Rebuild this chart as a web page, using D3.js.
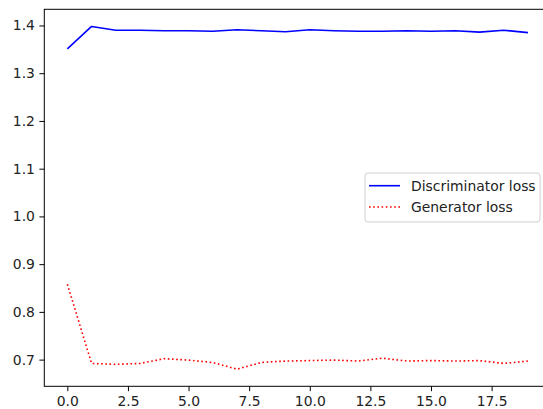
<!DOCTYPE html>
<html>
<head>
<meta charset="utf-8">
<script src="https://cdn.jsdelivr.net/npm/d3@7"></script>
<style>
  body { margin: 0; background: #fff; }
  svg { display: block; font-family: "DejaVu Sans", sans-serif; }
</style>
</head>
<body>
<svg width="543" height="409"></svg>
<script>
let width = 543;
let height = 409;

// epochs 0..19
let epochs = d3.range(20);
let discLoss = [1.351, 1.398, 1.390, 1.390, 1.389, 1.389, 1.388, 1.391, 1.389, 1.387,
                1.391, 1.389, 1.388, 1.388, 1.389, 1.388, 1.389, 1.386, 1.390, 1.385];
let genLoss = [0.858, 0.692, 0.690, 0.692, 0.702, 0.699, 0.694, 0.680, 0.694, 0.697,
               0.698, 0.699, 0.697, 0.703, 0.697, 0.698, 0.697, 0.698, 0.692, 0.697];
let xTicks = [0, 2.5, 5, 7.5, 10, 12.5, 15, 17.5];
let yTicks = [0.7, 0.8, 0.9, 1.0, 1.1, 1.2, 1.3, 1.4];
let seriesNames = ["Discriminator loss", "Generator loss"];

let svg = d3.select("svg");

// plot area (right side runs a bit past the picture, as in the original)
let plotLeft = 44.3, plotRight = 551, plotTop = 9.3, plotBottom = 386.3;

// matplotlib style 5% margins
let xPad = (d3.max(epochs) - d3.min(epochs)) * 0.05;
let x = d3.scaleLinear()
  .domain([d3.min(epochs) - xPad, d3.max(epochs) + xPad])
  .range([plotLeft, plotRight]);

let allY = discLoss.concat(genLoss);
let yPad = (d3.max(allY) - d3.min(allY)) * 0.05;
let y = d3.scaleLinear()
  .domain([d3.min(allY) - yPad, d3.max(allY) + yPad])
  .range([plotBottom, plotTop]);

// lines
let line = d3.line().x((d, i) => x(epochs[i])).y(d => y(d));

svg.append("path")
  .datum(discLoss)
  .attr("d", line)
  .attr("fill", "none")
  .attr("stroke", "blue")
  .attr("stroke-width", 1.6)
  .attr("stroke-linejoin", "round");

svg.append("path")
  .datum(genLoss)
  .attr("d", line)
  .attr("fill", "none")
  .attr("stroke", "red")
  .attr("stroke-width", 1.6)
  .attr("stroke-dasharray", "1.6,2.6");

// spines
svg.append("rect")
  .attr("x", plotLeft).attr("y", plotTop)
  .attr("width", plotRight - plotLeft).attr("height", plotBottom - plotTop)
  .attr("fill", "none")
  .attr("stroke", "black")
  .attr("stroke-width", 1);

// axes
let xAxis = d3.axisBottom(x).tickValues(xTicks).tickSize(4.9).tickPadding(4.5)
  .tickFormat(d3.format(".1f"));
let gx = svg.append("g").attr("transform", `translate(0,${plotBottom})`).call(xAxis);
gx.select(".domain").remove();

let yAxis = d3.axisLeft(y).tickValues(yTicks).tickSize(4.9).tickPadding(4.5)
  .tickFormat(d3.format(".1f"));
let gy = svg.append("g").attr("transform", `translate(${plotLeft},0)`).call(yAxis);
gy.select(".domain").remove();

svg.selectAll(".tick text")
  .attr("font-family", "DejaVu Sans")
  .attr("font-size", 13.9)
  .attr("fill", "#222");
svg.selectAll(".tick line").attr("stroke", "black").attr("stroke-width", 1);

// legend
let legend = svg.append("g").attr("transform", "translate(365,173)");
legend.append("rect")
  .attr("width", 175).attr("height", 49)
  .attr("rx", 3).attr("ry", 3)
  .attr("fill", "white")
  .attr("fill-opacity", 0.8)
  .attr("stroke", "#d0d0d0")
  .attr("stroke-width", 1);

let legendItems = [
  { name: seriesNames[0], color: "blue", dash: null },
  { name: seriesNames[1], color: "red", dash: "1.6,2.6" }
];
legendItems.forEach(function (d, i) {
  let yy = 12.7 + i * 21.3;
  legend.append("line")
    .attr("x1", 4).attr("x2", 35)
    .attr("y1", yy).attr("y2", yy)
    .attr("stroke", d.color)
    .attr("stroke-width", 1.6)
    .attr("stroke-dasharray", d.dash);
  legend.append("text")
    .attr("x", 46).attr("y", yy)
    .attr("dy", "0.35em")
    .attr("font-size", 13.9)
    .attr("fill", "#222")
    .text(d.name);
});
</script>
</body>
</html>
